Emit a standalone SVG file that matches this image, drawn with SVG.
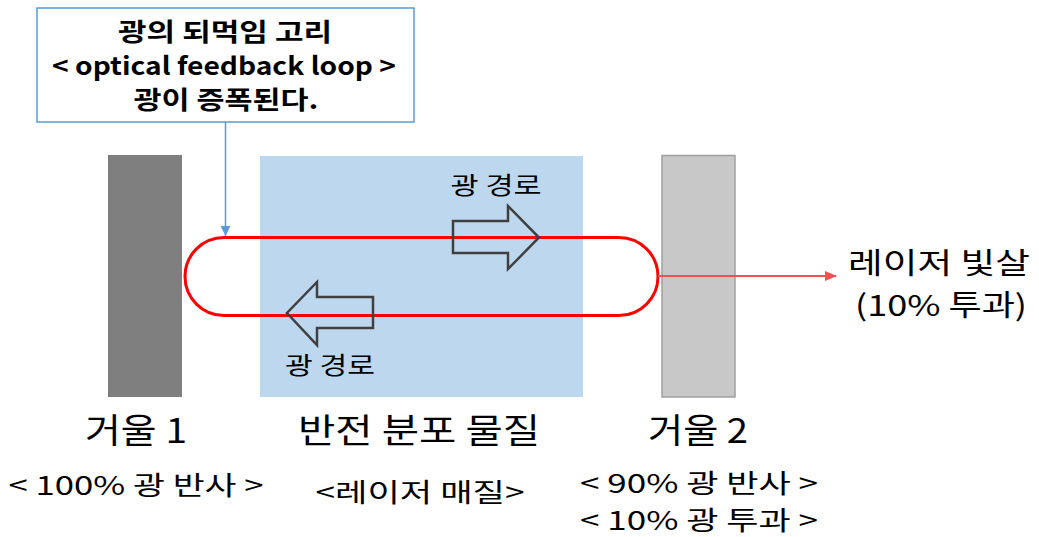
<svg xmlns="http://www.w3.org/2000/svg" width="1039" height="537" viewBox="0 0 1039 537">
<style>
text{font-family:"Noto Sans CJK KR","Noto Sans",sans-serif;fill:#000;text-anchor:middle}
.lbl{font-size:34px}
.sub{font-size:26px}
.path{font-size:24px}
.out{font-size:29px}
.call{font-size:25px;font-weight:bold}
.blk{fill:none;stroke:#404040;stroke-width:2.5}
</style>
<defs>
<marker id="ab" markerWidth="10" markerHeight="10" refX="10" refY="5" orient="auto" markerUnits="userSpaceOnUse"><path d="M0,0 L10,5 L0,10 z" fill="#5b9bd5"/></marker>
<marker id="ar" markerWidth="12" markerHeight="12" refX="11" refY="6" orient="auto" markerUnits="userSpaceOnUse"><path d="M0,1 L12,6 L0,11 z" fill="#f05050"/></marker>
</defs>
<g id="mirror1"><rect x="108" y="155" width="74" height="242" fill="#7f7f7f"/>
<text class="lbl" x="136" y="443" textLength="102" lengthAdjust="spacingAndGlyphs">거울 1</text>
<text class="sub" x="136" y="495" textLength="255" lengthAdjust="spacingAndGlyphs">&lt; 100% 광 반사 &gt;</text></g>
<g id="medium"><rect x="260" y="156" width="323" height="241" fill="#bdd7ee"/>
<text class="lbl" x="419" y="443" textLength="242" lengthAdjust="spacingAndGlyphs">반전 분포 물질</text>
<text class="sub" x="420" y="502" textLength="209" lengthAdjust="spacingAndGlyphs">&lt;레이저 매질&gt;</text></g>
<g id="mirror2"><rect x="662" y="155.5" width="73" height="241.5" fill="#c8c8c8" stroke="#a0a0a0" stroke-width="1.5"/>
<text class="lbl" x="698" y="443" textLength="100" lengthAdjust="spacingAndGlyphs">거울 2</text>
<text class="sub" x="699" y="493" textLength="238" lengthAdjust="spacingAndGlyphs">&lt; 90% 광 반사 &gt;</text>
<text class="sub" x="699" y="530" textLength="238" lengthAdjust="spacingAndGlyphs">&lt; 10% 광 투과 &gt;</text></g>
<g id="loop"><rect x="185" y="237.5" width="473" height="78" rx="39" ry="39" fill="none" stroke="#ff0000" stroke-width="3"/></g>
<g id="arrowRight"><path class="blk" d="M453,221 L508,221 L508,206 L539,237.5 L508,269 L508,253 L453,253 Z"/>
<text class="path" x="496" y="194" textLength="91" lengthAdjust="spacingAndGlyphs">광 경로</text></g>
<g id="arrowLeft"><path class="blk" d="M373,297 L317,297 L317,282 L287,313 L317,345 L317,328 L373,328 Z"/>
<text class="path" x="330" y="374" textLength="90" lengthAdjust="spacingAndGlyphs">광 경로</text></g>
<g id="callout"><rect x="37" y="8" width="377" height="114" fill="#fff" stroke="#5b9bd5" stroke-width="1.5"/>
<text class="call" x="225" y="41" textLength="214" lengthAdjust="spacingAndGlyphs">광의 되먹임 고리</text>
<text class="call" x="224" y="75" textLength="344" lengthAdjust="spacingAndGlyphs">&lt; optical feedback loop &gt;</text>
<text class="call" x="226" y="109" textLength="185" lengthAdjust="spacingAndGlyphs">광이 증폭된다.</text></g>
<g id="output"><text class="out" x="939" y="274" textLength="182" lengthAdjust="spacingAndGlyphs">레이저 빛살</text>
<text class="out" x="941" y="316" textLength="172" lengthAdjust="spacingAndGlyphs">(10% 투과)</text></g>
<g id="connectors">
<line x1="225.5" y1="122" x2="225.5" y2="236" stroke="#5b9bd5" stroke-width="1.5" marker-end="url(#ab)"/>
<line x1="658" y1="276" x2="836" y2="276" stroke="#f05050" stroke-width="2" marker-end="url(#ar)"/>
</g>
</svg>
